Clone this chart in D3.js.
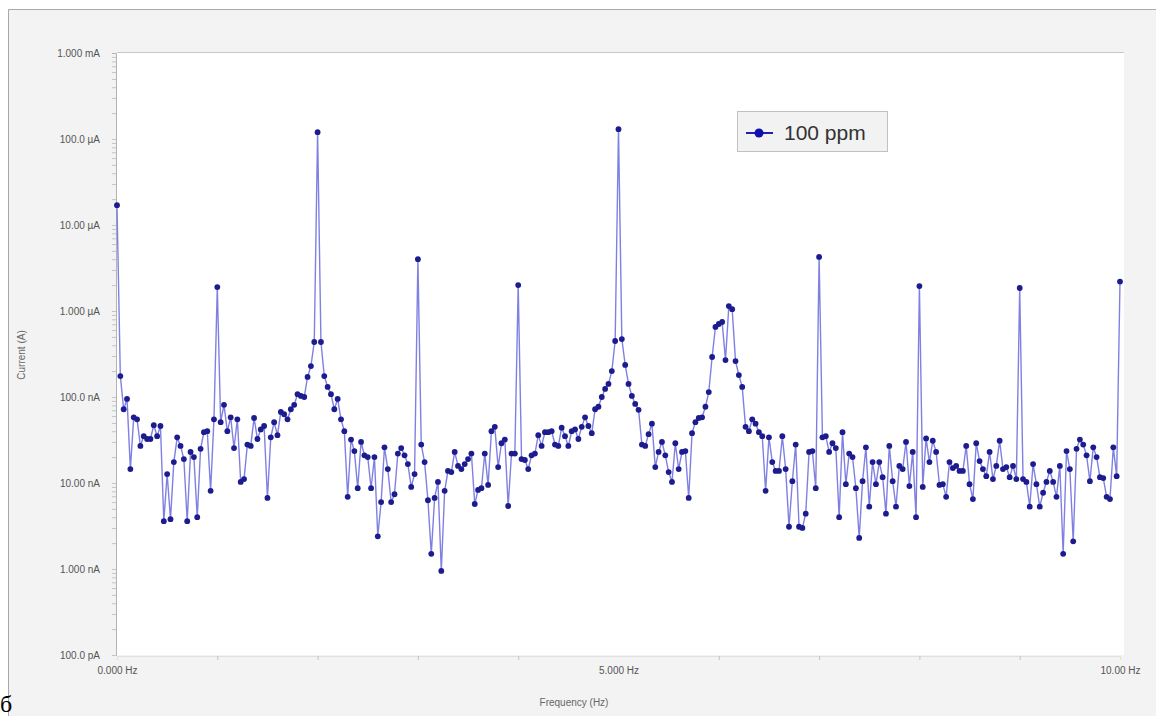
<!DOCTYPE html>
<html>
<head>
<meta charset="utf-8">
<script src="https://cdn.jsdelivr.net/npm/d3@7"></script>
<style>
  body { margin: 0; background: #fff; }
  svg { display: block; }
</style>
</head>
<body>
<script>
  // spectrum of the sensor current, one value per FFT bin, in nA
  const seriesName = '100 ppm'
  const freqStep = 1 / 30
  const currentNA = [
    17000, 175, 72, 95, 14.5, 58, 55, 27, 35, 32.5,
    32.5, 47, 35, 46, 3.6, 12.7, 3.8, 17.5, 34, 27,
    19, 3.6, 23, 20, 4.0, 25, 39, 40, 8.1, 55,
    1900, 51, 81, 40, 58, 25.5, 55, 10.3, 11.1, 28,
    27, 57, 32.5, 42, 46, 6.7, 34, 51, 36, 67,
    63, 55, 72, 81, 108, 103, 100, 171, 229, 436,
    120000, 436, 175, 131, 108, 72, 95, 55, 40, 6.9,
    32, 23.5, 8.7, 30, 21, 20, 8.7, 20, 2.4, 6.0,
    26, 14.5, 6.0, 7.4, 22, 25.5, 21, 16.6, 9.0, 12.7,
    4000, 28, 17.5, 6.3, 1.5, 6.7, 10.3, 0.95, 8.1, 13.8,
    13.4, 23, 15.8, 14.5, 16.6, 19, 22, 5.7, 8.3, 8.7,
    22, 9.5, 40, 45, 15.3, 29, 32, 5.4, 22, 22,
    2000, 19, 18.5, 14.5, 21, 22, 36, 27, 39, 39,
    40, 28, 27, 44, 35, 27, 40, 42, 32.5, 45,
    58, 46, 38, 72, 77, 100, 124, 142, 200, 448,
    130000, 472, 236, 142, 103, 83, 71, 28, 27, 37,
    49, 15.3, 23, 30, 21, 13.4, 10.3, 29, 14.5, 23,
    23.5, 6.7, 38, 51, 57, 58, 77, 114, 292, 652,
    706, 745, 269, 1140, 1050, 262, 180, 131, 45, 40,
    55, 49, 39, 35, 8.1, 34, 17.5, 13.8, 13.8, 35,
    14.5, 3.1, 10.5, 28, 3.1, 3.0, 4.4, 23, 23.5, 8.7,
    4250, 34, 35, 23, 29, 25.5, 4.0, 39, 9.7, 22,
    20, 8.7, 2.3, 10.5, 26, 5.3, 17.5, 9.7, 17.5, 11.7,
    4.4, 27, 10.5, 5.3, 15.8, 14.5, 30, 9.2, 23, 4.0,
    1950, 9.0, 33, 17.5, 31, 23, 9.5, 9.7, 6.9, 17.5,
    14.9, 15.8, 13.8, 13.8, 27, 9.7, 6.5, 29, 18, 14.5,
    12, 23, 11.1, 15.8, 31, 14.5, 15.3, 11.7, 15.8, 11.1,
    1850, 11.1, 10.3, 5.3, 16.6, 9.7, 5.3, 7.7, 10.3, 13.8,
    10.3, 6.9, 15.8, 1.5, 23.5, 14.5, 2.1, 25, 32, 28,
    21, 10.5, 26, 20, 11.7, 11.4, 6.9, 6.5, 26, 12,
    2200
  ]

  const yTickValues = [0.1, 1, 10, 100, 1e3, 1e4, 1e5, 1e6]
  const yTickLabels = ['100.0 pA', '1.000 nA', '10.00 nA', '100.0 nA',
                       '1.000 µA', '10.00 µA', '100.0 µA', '1.000 mA']
  const xTickValues = [0, 5, 10]
  const xTickLabels = ['0.000 Hz', '5.000 Hz', '10.00 Hz']
  const xMinorTicks = [1, 2, 3, 4, 6, 7, 8, 9]

  const width = 1156
  const height = 716
  const plot = { left: 117, right: 1124, top: 53, bottom: 655 }

  const svg = d3.select('body').append('svg')
  svg.attr('width', width).attr('height', height)

  // grey panel behind the chart
  svg.append('rect')
    .attr('x', 8).attr('y', 9)
    .attr('width', width - 8).attr('height', height - 9)
    .attr('fill', '#f3f3f3')
  svg.append('path')
    .attr('d', `M8.5,${height}V9.5H${width}`)
    .attr('fill', 'none')
    .attr('stroke', '#a8a8a8')

  svg.append('rect')
    .attr('x', plot.left).attr('y', plot.top)
    .attr('width', plot.right - plot.left).attr('height', plot.bottom - plot.top)
    .attr('fill', '#fff')
  svg.append('line')
    .attr('x1', plot.left).attr('x2', plot.right)
    .attr('y1', plot.top - 0.5).attr('y2', plot.top - 0.5)
    .attr('stroke', '#c8c8c8')

  const x = d3.scaleLinear().domain([0, 10]).range([117, 1120])
  const y = d3.scaleLog().domain([0.1, 1e6]).range([plot.bottom, plot.top])

  const points = currentNA.map((v, i) => ({ f: i * freqStep, v: v }))

  // axes
  const yMinor = []
  yTickValues.slice(0, -1).forEach(t => {
    for (let k = 1; k < 10; k++) yMinor.push(t * k)
  })

  const yAxisG = svg.append('g')
    .attr('transform', `translate(${plot.left - 1},0)`)
    .call(d3.axisLeft(y).tickValues(yMinor).tickSize(4).tickFormat(''))
  yAxisG.select('.domain').attr('stroke', '#b4b4b4')
  yAxisG.selectAll('.tick line').attr('stroke', '#c4c4c4')

  const yLabels = svg.append('g')
    .attr('transform', `translate(${plot.left - 1},0)`)
    .call(d3.axisLeft(y).tickValues(yTickValues)
      .tickFormat((d, i) => yTickLabels[i]).tickSize(0).tickPadding(16))
  yLabels.select('.domain').remove()
  yLabels.selectAll('text')
    .attr('font-family', 'Liberation Sans, Arial, sans-serif')
    .attr('font-size', 10)
    .attr('fill', '#555')

  const xAxisG = svg.append('g')
    .attr('transform', `translate(0,${plot.bottom + 1})`)
    .call(d3.axisBottom(x).tickValues(xMinorTicks).tickSize(4).tickFormat(''))
  xAxisG.select('.domain').attr('stroke', '#e0e0e0')
  xAxisG.selectAll('.tick line').attr('stroke', '#c4c4c4')

  const xLabels = svg.append('g')
    .attr('transform', `translate(0,${plot.bottom + 1})`)
    .call(d3.axisBottom(x).tickValues(xTickValues)
      .tickFormat((d, i) => xTickLabels[i]).tickSize(0).tickPadding(11))
  xLabels.select('.domain').remove()
  xLabels.selectAll('text')
    .attr('font-family', 'Liberation Sans, Arial, sans-serif')
    .attr('font-size', 10)
    .attr('fill', '#555')

  svg.append('text')
    .attr('x', 574).attr('y', 706)
    .attr('text-anchor', 'middle')
    .attr('font-family', 'Liberation Sans, Arial, sans-serif')
    .attr('font-size', 10)
    .attr('fill', '#666')
    .text('Frequency (Hz)')

  svg.append('text')
    .attr('transform', 'translate(25,355) rotate(-90)')
    .attr('text-anchor', 'middle')
    .attr('font-family', 'Liberation Sans, Arial, sans-serif')
    .attr('font-size', 10)
    .attr('fill', '#666')
    .text('Current (A)')

  // series
  const line = d3.line()
    .x(d => x(d.f))
    .y(d => y(d.v))

  svg.append('path')
    .datum(points)
    .attr('d', line)
    .attr('fill', 'none')
    .attr('stroke', '#6a6ade')
    .attr('stroke-width', 1.4)
    .attr('stroke-opacity', 0.85)

  svg.append('g').selectAll('circle')
    .data(points)
    .enter()
    .append('circle')
    .attr('cx', d => x(d.f))
    .attr('cy', d => y(d.v))
    .attr('r', 2.9)
    .attr('fill', '#1c1c8e')

  // legend
  const legend = svg.append('g').attr('transform', 'translate(737,111)')
  legend.append('rect')
    .attr('x', 0.5).attr('y', 0.5)
    .attr('width', 150).attr('height', 40)
    .attr('fill', '#f2f2f2')
    .attr('stroke', '#c0c0c0')
  legend.append('line')
    .attr('x1', 9).attr('x2', 36)
    .attr('y1', 22).attr('y2', 22)
    .attr('stroke', '#2020b0')
    .attr('stroke-width', 2)
  legend.append('circle')
    .attr('cx', 22).attr('cy', 22).attr('r', 4.5)
    .attr('fill', '#1010b0')
  legend.append('text')
    .attr('x', 47).attr('y', 29)
    .attr('font-family', 'Liberation Sans, Arial, sans-serif')
    .attr('font-size', 21)
    .attr('fill', '#333')
    .text(seriesName)

  // panel letter in the corner
  svg.append('text')
    .attr('x', 0).attr('y', 712)
    .attr('font-family', 'Liberation Serif, serif')
    .attr('font-size', 24)
    .attr('fill', '#000')
    .text('б')
</script>
</body>
</html>
